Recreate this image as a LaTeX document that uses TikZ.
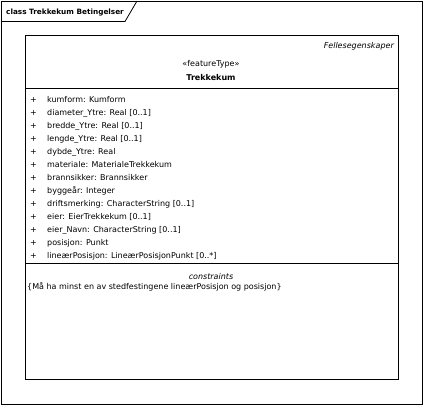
\documentclass[tikz,border=0pt]{standalone}
\usepackage{fontspec}
\setmainfont{DejaVu Sans}
\usetikzlibrary{positioning}

\begin{document}
\begin{tikzpicture}[x=1pt, y=-1pt,
    umltext/.style={inner sep=0pt, font=\fontsize{8}{9}\selectfont},
    attr/.style={umltext, anchor=base west},
    plus/.style={umltext, anchor=base west}]
    \useasboundingbox (0,0) rectangle (423,405);

    % Diagram frame with its title tab
    \node [draw=black, thick, minimum width=420.5pt, minimum height=403pt, anchor=north west, inner sep=0pt] (frame) at (1,1) {};
    \node [inner sep=0pt, anchor=base west, font=\fontsize{7.3}{9}\selectfont\bfseries] (title) at (6,14) {class Trekkekum Betingelser};
    \draw [thick] (frame.north west |- 0,21.5) -- (125,21.5) -- (137,1);

    % Class box
    \node [draw=black, thick, minimum width=372.5pt, minimum height=344pt, anchor=north west, inner sep=0pt] (trekkekum) at (25.3,35.2) {};
    \node [umltext, anchor=base east, font=\fontsize{8}{9}\selectfont\itshape] (package) at (394,48) {Fellesegenskaper};
    \node [umltext, anchor=base] (stereotype) at (211,66) {«featureType»};
    \node [umltext, anchor=base, font=\fontsize{8}{9}\selectfont\bfseries] (classname) at (211,80) {Trekkekum};
    \draw [thick] (trekkekum.west |- 0,88) -- (trekkekum.east |- 0,88);

    % Attributes
    \foreach \a [count=\i] in {{kumform: Kumform}, {diameter\_Ytre: Real [0..1]}, {bredde\_Ytre: Real [0..1]},
        {lengde\_Ytre: Real [0..1]}, {dybde\_Ytre: Real}, {materiale: MaterialeTrekkekum},
        {brannsikker: Brannsikker}, {byggeår: Integer}, {driftsmerking: CharacterString [0..1]},
        {eier: EierTrekkekum [0..1]}, {eier\_Navn: CharacterString [0..1]}, {posisjon: Punkt},
        {lineærPosisjon: LineærPosisjonPunkt [0..*]}} {
        \node [plus] (plus-\i) at (30,89+13*\i) {+};
        \node [attr] (attr-\i) at (47,89+13*\i) {\a};
    }
    \draw [thick] (trekkekum.west |- 0,263.3) -- (trekkekum.east |- 0,263.3);

    % Constraints
    \node [umltext, anchor=base, font=\fontsize{8}{9}\selectfont\itshape] (constraints) at (211,279) {constraints};
    \node [umltext, anchor=base west] (rule) at (27,289) {\{Må ha minst en av stedfestingene lineærPosisjon og posisjon\}};

\end{tikzpicture}
\end{document}
